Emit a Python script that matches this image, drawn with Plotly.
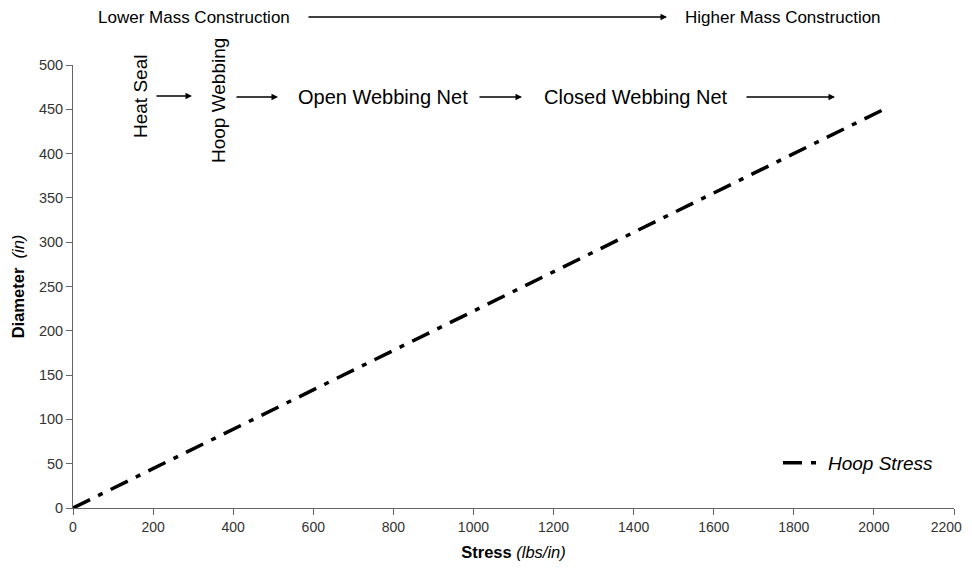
import plotly.graph_objects as go

stress = [0, 225, 450, 675, 900, 1125, 1350, 1575, 1800, 2025]
diameter = [0, 50, 100, 150, 200, 250, 300, 350, 400, 450]
series_name = "Hoop Stress"
x_ticks = list(range(0, 2201, 200))
x_tick_labels = [str(v) for v in x_ticks]
x_tick_labels[-1] = x_tick_labels[-1] + "\u00a0" * 4  # keep last label inside view
y_ticks = list(range(0, 501, 50))

FONT = "Liberation Sans, Arial, sans-serif"
OFF = 8  # page body margin
W, H = 972 - OFF, 571 - 2 * OFF
L, T = 73 - OFF, 65 - OFF
PW, PH = 881, 443
R = W - L - PW
B = H - T - PH

def px(x):
    return (x - OFF - L) / PW

def py(y):
    return (H - B - (y - OFF)) / PH

fig = go.Figure()
fig.add_trace(go.Scatter(
    x=stress, y=diameter, mode="lines", name="<i>" + series_name + "</i>",
    line=dict(color="black", width=3.5, dash="19px,9px,5px,9px"),
))

ann = []
def text(x, y, s, size, angle=0, xanchor="center"):
    ann.append(dict(x=px(x), y=py(y), xref="paper", yref="paper", text=s,
                    showarrow=False, textangle=angle, xanchor=xanchor,
                    yanchor="middle", font=dict(family=FONT, size=size, color="black")))

def arrow(x0, x1, y):
    ann.append(dict(x=px(x1), y=py(y), xref="paper", yref="paper", text="",
                    showarrow=True, ax=x0 - x1, ay=0, arrowhead=2, arrowsize=1,
                    arrowwidth=1.3, arrowcolor="black"))

text(96, 17, "Lower Mass Construction", 17, xanchor="left")
arrow(307, 667, 17)
text(683, 17, "Higher Mass Construction", 17, xanchor="left")
text(140, 97, "Heat Seal", 19, angle=-90)
arrow(155, 192, 96)
text(218, 101, "Hoop Webbing", 19, angle=-90)
arrow(235, 278, 97)
text(296, 97, "Open Webbing Net", 20, xanchor="left")
arrow(478, 522, 97)
text(542, 97, "Closed Webbing Net", 20, xanchor="left")
arrow(745, 835, 97)

fig.update_layout(
    width=W, height=H,
    margin=dict(l=L, r=R, t=T, b=B, autoexpand=False),
    paper_bgcolor="white", plot_bgcolor="white",
    font=dict(family=FONT, color="#333"),
    annotations=ann,
    showlegend=True,
    legend=dict(x=px(778), y=py(444), xanchor="left", yanchor="top",
                font=dict(family=FONT, size=19, color="black"),
                bgcolor="rgba(0,0,0,0)", itemwidth=40),
    xaxis=dict(range=[0, 2200], tickvals=x_ticks, ticktext=x_tick_labels,
               showgrid=False, zeroline=False,
               automargin=False, ticklabeloverflow="allow",
               showline=True, linecolor="#666", linewidth=1, ticks="outside",
               ticklen=6, tickcolor="#666", tickfont=dict(size=14, color="#333"),
               title=dict(text="<b>Stress</b> <i>(lbs/in)</i>", standoff=12,
                          font=dict(size=16.5, color="black"))),
    yaxis=dict(range=[0, 500], tickvals=y_ticks, showgrid=False, zeroline=False,
               automargin=False,
               showline=True, linecolor="#666", linewidth=1, ticks="outside",
               ticklen=6, tickcolor="#666", tickfont=dict(size=14.5, color="#333"),
               title=dict(text="<b>Diameter</b>  <i>(in)</i>", standoff=10,
                          font=dict(size=16.5, color="black"))),
)

fig.write_html("out.html")
